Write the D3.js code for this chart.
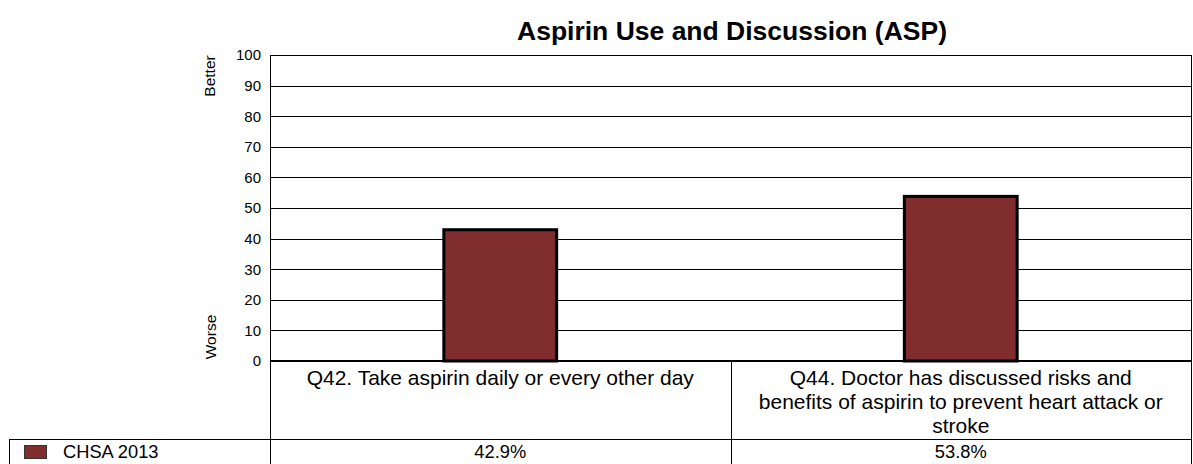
<!DOCTYPE html>
<html>
<head>
<meta charset="utf-8">
<script src="https://cdn.jsdelivr.net/npm/d3@7"></script>
<style>
  html, body { margin: 0; padding: 0; background: #fff; }
  svg { display: block; font-family: "Liberation Sans", Arial, sans-serif; }
</style>
</head>
<body>
<svg id="chart" width="1193" height="464"></svg>
<script>
// Chart data
const categories = [
  ["Q42. Take aspirin daily or every other day"],
  ["Q44. Doctor has discussed risks and", "benefits of aspirin to prevent heart attack or", "stroke"]
];
const seriesName = "CHSA 2013";
const seriesValues = [42.9, 53.8];
const yTicks = [0, 10, 20, 30, 40, 50, 60, 70, 80, 90, 100];
const titleText = "Aspirin Use and Discussion (ASP)";

const svg = d3.select("#chart");
const plot = { left: 270, right: 1191, top: 55, bottom: 361 };
const barColor = "#7f2d2d";
const fontFamily = "Liberation Sans, Arial, sans-serif";

const x = d3.scaleBand()
  .domain(d3.range(categories.length))
  .range([plot.left, plot.right])
  .paddingInner(0)
  .paddingOuter(0);
const y = d3.scaleLinear().domain([0, 100]).range([plot.bottom, plot.top]);

// Title
svg.append("text")
  .attr("x", 732).attr("y", 40)
  .attr("text-anchor", "middle")
  .attr("font-size", 26.5).attr("font-weight", "bold")
  .text(titleText);

// Gridlines
svg.append("g")
  .selectAll("line")
  .data(yTicks.filter(d => d > 0))
  .join("line")
  .attr("x1", plot.left).attr("x2", plot.right)
  .attr("y1", d => Math.round(y(d)) + 0.5).attr("y2", d => Math.round(y(d)) + 0.5)
  .attr("stroke", "#000").attr("stroke-width", 1);

// Y axis tick labels
const yAxis = d3.axisLeft(y).tickValues(yTicks).tickSize(0).tickPadding(9);
const gy = svg.append("g").attr("transform", `translate(${plot.left},0)`).call(yAxis);
gy.select(".domain").remove();
gy.attr("font-size", 15).attr("font-family", fontFamily);
gy.selectAll("text").attr("fill", "#000");

// Frame
svg.append("line").attr("x1", plot.left + 0.5).attr("x2", plot.left + 0.5)
  .attr("y1", plot.top).attr("y2", 464).attr("stroke", "#000");
svg.append("line").attr("x1", plot.right + 0.5).attr("x2", plot.right + 0.5)
  .attr("y1", plot.top).attr("y2", 464).attr("stroke", "#000");
svg.append("line").attr("x1", plot.left).attr("x2", plot.right)
  .attr("y1", plot.top + 0.5).attr("y2", plot.top + 0.5).attr("stroke", "#000");

// Bars
const barW = x.bandwidth() * 0.245;
svg.append("g")
  .selectAll("rect")
  .data(seriesValues)
  .join("rect")
  .attr("x", (d, i) => x(i) + x.bandwidth() / 2 - barW / 2)
  .attr("y", d => y(d))
  .attr("width", barW)
  .attr("height", d => y(0) - y(d))
  .attr("fill", barColor)
  .attr("stroke", "#000").attr("stroke-width", 3);

// Zero baseline
svg.append("line").attr("x1", plot.left).attr("x2", plot.right)
  .attr("y1", y(0)).attr("y2", y(0)).attr("stroke", "#000").attr("stroke-width", 2);

// Axis side labels
svg.append("text")
  .attr("transform", `translate(215,76) rotate(-90)`)
  .attr("text-anchor", "middle").attr("font-size", 15.5)
  .text("Better");
svg.append("text")
  .attr("transform", `translate(216,337) rotate(-90)`)
  .attr("text-anchor", "middle").attr("font-size", 15.5)
  .text("Worse");

// Data table: category separators and rows
const rowTop = 439.5;
svg.append("line").attr("x1", 9).attr("x2", plot.right)
  .attr("y1", rowTop).attr("y2", rowTop).attr("stroke", "#000");
svg.append("line").attr("x1", 9.5).attr("x2", 9.5)
  .attr("y1", rowTop).attr("y2", 464).attr("stroke", "#000");
svg.append("g")
  .selectAll("line")
  .data(d3.range(1, categories.length))
  .join("line")
  .attr("x1", i => Math.round(x(i)) + 0.5).attr("x2", i => Math.round(x(i)) + 0.5)
  .attr("y1", plot.bottom).attr("y2", 464)
  .attr("stroke", "#000");

// Category labels
categories.forEach((lines, i) => {
  const t = svg.append("text")
    .attr("text-anchor", "middle").attr("font-size", 21);
  lines.forEach((ln, k) => {
    t.append("tspan")
      .attr("x", x(i) + x.bandwidth() / 2)
      .attr("y", 385 + k * 24)
      .text(ln);
  });
});

// Value row
svg.append("g")
  .selectAll("text")
  .data(seriesValues)
  .join("text")
  .attr("x", (d, i) => x(i) + x.bandwidth() / 2)
  .attr("y", 458)
  .attr("text-anchor", "middle").attr("font-size", 18.3)
  .text(d => d3.format(".1f")(d) + "%");

// Legend key
svg.append("rect")
  .attr("x", 24.5).attr("y", 445.5).attr("width", 22).attr("height", 13)
  .attr("fill", barColor).attr("stroke", "#333").attr("stroke-width", 1);
svg.append("text")
  .attr("x", 63).attr("y", 458).attr("font-size", 18.3)
  .text(seriesName);
</script>
</body>
</html>
